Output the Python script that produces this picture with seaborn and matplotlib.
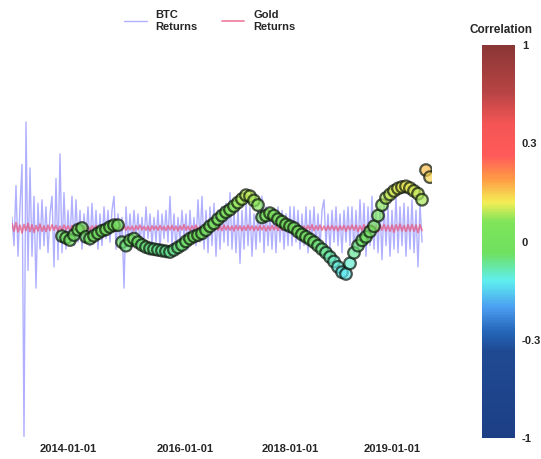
import numpy as np
import pandas as pd
import seaborn as sns
import matplotlib.pyplot as plt
from matplotlib.colors import LinearSegmentedColormap, FuncNorm
from matplotlib.cm import ScalarMappable

# daily returns in percent
btc_returns = [
    3, -5, 12, -8, 6,
    18, -59, 30, -12, 17,
    -8, 9, -17, 7, -6, 8,
    -5, 6, -7, 4, 9, -11,
    14, -9, 21, -7, 10,
    -6, 5, -4, 9, -5, 8,
    -4, 5, -6, 4, -3, 6, -5, 7, -4, 5, -6, 4, -5, 6, -3, 5, -4,
    5, 9, -6, 4, -5, 3, -17, 6, -4, 4,
    -4, 5, -3, 4, -5, 3, -4, 6, -3, 4, -5, 3, -4, 5, -6, 4, -3, 5, -4, 9,
    -5, 4, -6, 3, -4, 5, -3, 4, -6, 5, -4, 3, -5, 8, -4,
    9, -6, 5, -7, 6, -5, 7, -8, 5, -6, 6, -4, 7, -5, 10, -6, 5, -7, 6, -10,
    5, -6, 7, -5, 6, -8, 4, -6, 5, -4, 9, -7, 6, -5, 4, -6, 5, -7, 6, -4,
    5, -6, 4, -5, 6,
    -5, 6, -4, 5, -6, 4, -5, 6, -7, 5, -4, 6, -5, 4, -6, 5, 8, -5, 4, -6,
    5, -4, 6, -5, 4, -7, 5, -4, 6, -5,
    6, -7, 5, -6, 8, -5, 7, -8, 6, -5, 9, -6, 5, -7, 6, -9, 7, -5, 6, -8,
    5, -6, 9, -7, 6, -5, 7, -8, 6, -6, 8, -7, 5, -11, 7, -4,
]
gold_returns = [
    1.2, -0.9, 1.5, -1.1, 0.8, -1.4, 1.0, -0.7, 1.3, -1.0, 0.9, -1.2, 0.7, -0.8, 1.1, -0.9, 0.6, -1.0, 0.8, -0.7,
    0.9, -0.6, 0.7, -0.9, 0.5, -0.7, 0.8, -0.5, 0.6, -0.8, 0.7, -0.6, 0.5, -0.7, 0.9, -0.5, 0.6, -0.6, 0.4, -0.7,
    0.6, -0.5, 0.7, -0.4, 0.5, -0.6, 0.8, -0.5, 0.4, -0.6, 0.5, -0.7, 0.6, -0.4, 0.5, -0.5, 0.7, -0.6, 0.4, -0.5,
    0.5, -0.7, 0.6, -0.4, 0.8, -0.5, 0.4, -0.6, 0.5, -0.8, 0.6, -0.4, 0.5, -0.6, 0.7, -0.5, 0.4, -0.7, 0.6, -0.5,
    0.7, -0.6, 0.5, -0.8, 0.6, -0.5, 0.9, -0.6, 0.5, -0.7, 0.6, -0.5, 0.8, -0.6, 0.4, -0.7, 0.6, -0.5, 0.7, -0.9,
    0.6, -0.5, 0.7, -0.6, 0.5, -0.7, 0.8, -0.5, 0.6, -0.6, 0.5, -0.8, 0.7, -0.5, 0.6, -0.7, 0.5, -0.6, 0.8, -0.5,
    0.6, -0.7, 0.5, -0.6, 0.7, -0.5, 0.6, -0.8, 0.5, -0.6, 0.7, -0.5, 0.6, -0.7, 0.5, -0.6, 0.8, -0.5, 0.6, -0.7,
    0.5, -0.6, 0.7, -0.5, 0.6, -0.8, 0.5, -0.6, 0.7, -0.5, 0.9, -0.7, 0.6, -0.5, 0.8, -0.6, 0.5, -0.7, 0.6, -0.5,
    0.7, -0.6, 0.5, -0.8, 0.6, -0.5, 0.7, -0.9, 0.6, -0.5, 0.8, -0.6, 0.7, -1.0, 0.6, -0.7, 0.9, -0.6, 0.8, -0.7,
    0.9, -0.8, 0.7, -1.1, 0.8, -0.6, 1.0, -0.8, 0.7, -0.9, 0.8, -1.2, 0.9, -0.7, 1.1, -0.8, 0.7, -1.0, 0.9, -0.8,
    1.0, -0.9, 0.8, -1.3, 0.9, -0.7,
]
# rolling correlation, sampled every 2nd day starting at day 25
corr_start = 25
correlation = [
    -0.023, -0.028, -0.034, -0.020, -0.005, 0.000, -0.025, -0.030, -0.022, -0.015,
    -0.008, -0.004, 0.003, 0.008, 0.008, -0.040, -0.050, -0.035, -0.030, -0.040,
    -0.048, -0.054, -0.058, -0.060, -0.062, -0.064, -0.066, -0.068, -0.062, -0.055,
    -0.048, -0.038, -0.030, -0.024, -0.020, -0.015, -0.006, 0.005, 0.013, 0.025,
    0.035, 0.045, 0.052, 0.062, 0.072, 0.082, 0.093, 0.090, 0.078, 0.065,
    0.030, 0.035, 0.042, 0.035, 0.025, 0.018, 0.010, 0.005, 0.000, -0.010,
    -0.018, -0.025, -0.032, -0.040, -0.050, -0.060, -0.070, -0.082, -0.095, -0.110,
    -0.125, -0.130, -0.100, -0.070, -0.050, -0.035, -0.025, -0.010, 0.005, 0.035,
    0.065, 0.085, 0.095, 0.105, 0.112, 0.116, 0.118, 0.113, 0.105, 0.097,
    0.080, 0.164, 0.144,
]
tick_days = [28, 86.5, 139, 190]
tick_labels = ["2014-01-01", "2016-01-01", "2018-01-01", "2019-01-01"]
cbar_ticks = [-1, -0.3, 0, 0.3, 1]

sns.set_style("white")
plt.rcParams["font.family"] = ["Liberation Sans", "DejaVu Sans"]
plt.rcParams["font.weight"] = "bold"

df = pd.DataFrame({"day": np.arange(len(btc_returns)),
                   "btc": np.array(btc_returns) / 100,
                   "gold": np.array(gold_returns[:len(btc_returns)]) / 100})
cdf = pd.DataFrame({"day": corr_start + 2 * np.arange(len(correlation)),
                    "corr": correlation})

cmap = LinearSegmentedColormap.from_list("corr", [
    (0.00, "#1d3f86"), (0.22, "#1f4a92"), (0.27, "#2466b8"), (0.33, "#4a9cf0"),
    (0.40, "#5fefef"), (0.47, "#6fe060"), (0.55, "#7fe45a"), (0.60, "#f3ee55"),
    (0.66, "#ff9a45"), (0.72, "#ff5a5a"), (0.80, "#f55555"), (0.88, "#b84444"),
    (1.00, "#8a3636")])
knots = [-1, -0.3, 0, 0.3, 1]
pos = [0, 0.25, 0.5, 0.75, 1]
norm = FuncNorm((lambda v: np.interp(v, knots, pos),
                 lambda p: np.interp(p, pos, knots)), vmin=-1, vmax=1)

fig = plt.figure(figsize=(5.41, 4.59), dpi=100)
ax = fig.add_axes([12 / 541, 19 / 459, 420 / 541, 330 / 459])

sns.lineplot(data=df, x="day", y="btc", ax=ax, color="#6f6fff", alpha=0.55,
             linewidth=1.0, label="BTC\nReturns")
sns.lineplot(data=df, x="day", y="gold", ax=ax, color="#e8507a", alpha=0.7,
             linewidth=1.3, label="Gold\nReturns")
sns.scatterplot(data=cdf, x="day", y="corr", hue="corr", palette=cmap,
                hue_norm=norm, ax=ax, s=70, edgecolor="#0c150c",
                linewidth=1.6, alpha=0.7, legend=False, zorder=3)

ax.set_xlim(0, 210)
ax.set_ylim(-0.60, 0.334)
ax.set_xticks(tick_days)
ax.set_xticklabels(tick_labels, fontsize=8, fontweight="bold")
ax.set_yticks([])
ax.set_xlabel("")
ax.set_ylabel("")
ax.tick_params(axis="x", length=0, pad=3)
sns.despine(ax=ax, left=True, bottom=True)

ax.legend(loc="upper center", bbox_to_anchor=(210 / 541, 1.0),
          bbox_transform=fig.transFigure, ncol=2, frameon=False,
          handlelength=2.0, handletextpad=0.8, columnspacing=2.2,
          prop={"weight": "bold", "size": 8})

cax = fig.add_axes([482 / 541, 21 / 459, 33 / 541, 393 / 459])
cb = fig.colorbar(ScalarMappable(norm=norm, cmap=cmap), cax=cax)
cb.set_ticks(cbar_ticks)
cb.set_ticklabels(["-1", "-0.3", "0", "0.3", "1"])
cb.outline.set_visible(False)
cax.tick_params(length=0, pad=5, labelsize=8)
for t in cax.get_yticklabels():
    t.set_fontweight("bold")
fig.text(470 / 541, 1 - 30 / 459, "Correlation", fontsize=8.5,
         fontweight="bold", va="center", ha="left")

fig.savefig("out.png", dpi=100)
